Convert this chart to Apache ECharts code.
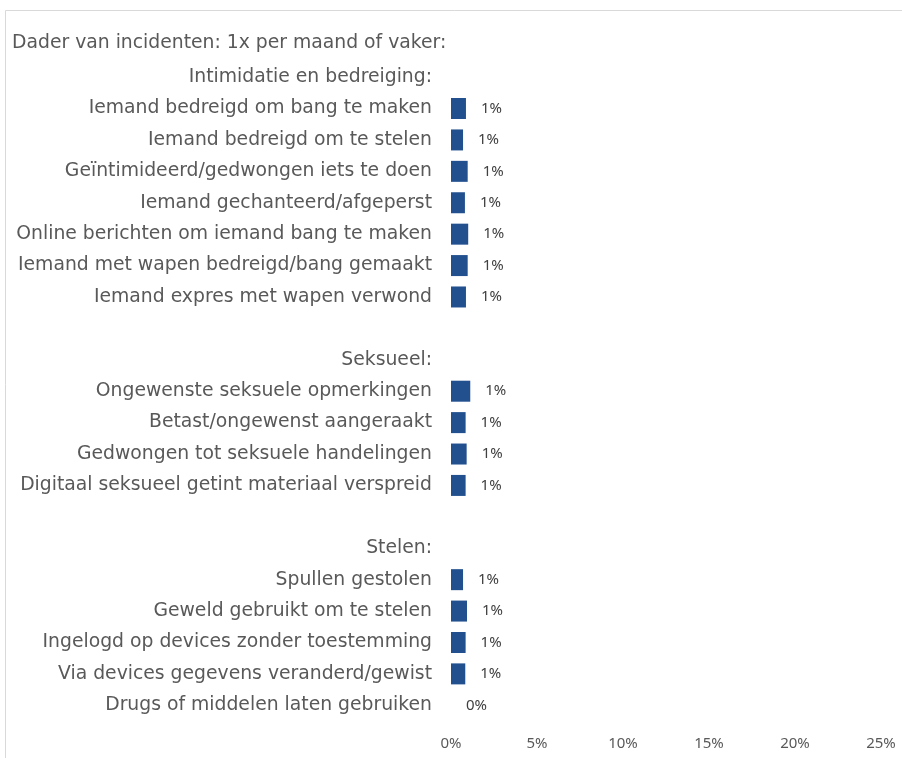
<!DOCTYPE html>
<html>
<head>
<meta charset="utf-8">
<script src="https://cdn.jsdelivr.net/npm/echarts@6/dist/echarts.min.js"></script>
<style>
html, body { margin: 0; padding: 0; background: #fff; }
#chart { width: 902px; height: 758px; }
</style>
</head>
<body>
<div id="chart"></div>
<script>
var chartTitle = 'Dader van incidenten: 1x per maand of vaker:';

// rijen van boven naar beneden, '' = lege regel, kopjes hebben geen waarde
var categories = [
	'',
	'Intimidatie en bedreiging:',
	'Iemand bedreigd om bang te maken',
	'Iemand bedreigd om te stelen',
	'Geïntimideerd/gedwongen iets te doen',
	'Iemand gechanteerd/afgeperst',
	'Online berichten om iemand bang te maken',
	'Iemand met wapen bedreigd/bang gemaakt',
	'Iemand expres met wapen verwond',
	' ',
	'Seksueel:',
	'Ongewenste seksuele opmerkingen',
	'Betast/ongewenst aangeraakt',
	'Gedwongen tot seksuele handelingen',
	'Digitaal seksueel getint materiaal verspreid',
	'  ',
	'Stelen:',
	'Spullen gestolen',
	'Geweld gebruikt om te stelen',
	'Ingelogd op devices zonder toestemming',
	'Via devices gegevens veranderd/gewist',
	'Drugs of middelen laten gebruiken'
];

var values = [
	null,
	null, 0.87, 0.70, 0.97, 0.81, 1.00, 0.97, 0.87,
	null,
	null, 1.12, 0.85, 0.91, 0.85,
	null,
	null, 0.70, 0.93, 0.85, 0.83, 0.0
];

var xTicks = [0, 5, 10, 15, 20, 25];

var chart = echarts.init(document.getElementById('chart'));

chart.setOption({
	animation: false,
	textStyle: { fontFamily: 'DejaVu Sans' },
	graphic: [{
		type: 'rect',
		shape: { x: 5.5, y: 10.5, width: 1000, height: 1000 },
		style: { fill: 'none', stroke: '#d9d9d9', lineWidth: 1 },
		silent: true
	}, {
		type: 'text',
		left: 12,
		top: 34,
		style: { text: chartTitle, font: '18.8px "DejaVu Sans"', fill: '#595959' }
	}],
	grid: {
		left: 451,
		right: 21,
		top: 30,
		bottom: 37,
		containLabel: false
	},
	xAxis: {
		type: 'value',
		min: xTicks[0],
		max: xTicks[xTicks.length - 1],
		interval: 5,
		splitLine: { show: false },
		axisLine: { show: false },
		axisTick: { show: false },
		axisLabel: {
			formatter: '{value}%',
			color: '#595959',
			fontFamily: 'Noto Sans',
			fontSize: 15,
			margin: 15
		}
	},
	yAxis: {
		type: 'category',
		inverse: true,
		data: categories,
		axisLine: { show: false },
		axisTick: { show: false },
		axisLabel: {
			color: '#595959',
			fontSize: 18.8,
			margin: 19
		}
	},
	series: [{
		type: 'bar',
		data: values,
		barWidth: 21,
		itemStyle: {
			color: '#22508f'
		},
		label: {
			show: true,
			position: 'right',
			distance: 15,
			color: '#404040',
			fontFamily: 'Noto Sans',
			fontSize: 15,
			formatter: function(p) {
				if (p.value == null) return '';
				return Math.round(p.value) + '%';
			}
		}
	}]
});
</script>
</body>
</html>
